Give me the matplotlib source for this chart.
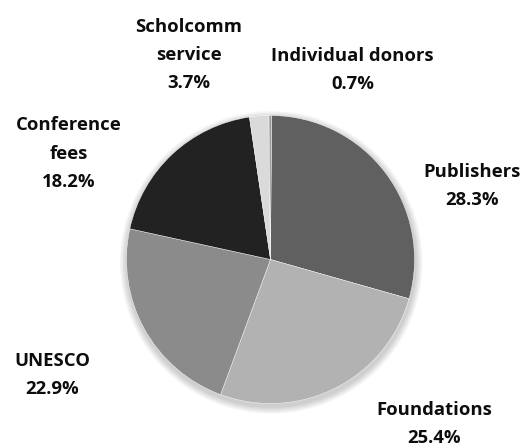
import matplotlib
matplotlib.use("Agg")
import matplotlib.pyplot as plt
from matplotlib.patches import Circle

# data
labels = ["Publishers", "Foundations", "UNESCO", "Conference\nfees",
          "Scholcomm\nservice", "Individual donors"]
pct_text = [28.3, 25.4, 22.9, 18.2, 3.7, 0.7]
# slice sizes as drawn in the picture (%)
slice_sizes = [29.3, 26.25, 22.8, 19.25, 2.17, 0.28]
colors = ["#606060", "#b2b2b2", "#8b8b8b", "#222222", "#dadada", "#9a9a9a"]

# label anchor positions (pie radius = 1)
label_pos = [(1.401, 0.510), (1.135, -1.142), (-1.517, -0.802),
             (-1.399, 0.736), (-0.566, 1.420), (0.569, 1.316)]

W, H, DPI = 526, 447, 100
cx, cy, R = 270.5, 259.5, 144.0

fig = plt.figure(figsize=(W / DPI, H / DPI), dpi=DPI)
fig.patch.set_facecolor("white")
ax = fig.add_axes([0, 0, 1, 1])

# soft shadow under the pie
for i in range(5):
    ax.add_patch(Circle((0.005, -0.02), 1.0 + 0.01 * (i + 1), color="black",
                        alpha=0.04, lw=0, zorder=0))

ax.pie(slice_sizes, colors=colors, startangle=89.6, counterclock=False,
       radius=1.0, center=(0, 0), frame=True,
       wedgeprops=dict(edgecolor="white", linewidth=0.3, zorder=2))
ax.set_xlim(-cx / R, (W - cx) / R)
ax.set_ylim(-(H - cy) / R, cy / R)
ax.set_aspect("equal")
ax.axis("off")

for lab, val, (x, y) in zip(labels, pct_text, label_pos):
    ax.text(x, y, f"{lab}\n{val:.1f}%", ha="center", va="center",
            fontsize=13.3, fontweight="bold", family="Open Sans",
            color="#0d0d0d", linespacing=1.72, zorder=5)

fig.savefig("out.png", dpi=DPI, facecolor="white")
plt.close(fig)
